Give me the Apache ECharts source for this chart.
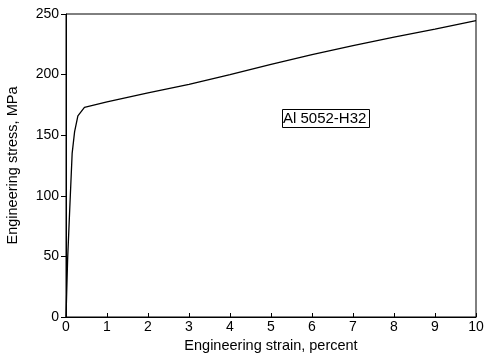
<!DOCTYPE html>
<html>
<head>
<meta charset="utf-8">
<script src="https://cdn.jsdelivr.net/npm/echarts@6/dist/echarts.min.js"></script>
<style>
html,body{margin:0;padding:0;background:#fff;}
#chart{width:484px;height:357px;}
</style>
</head>
<body>
<div id="chart"></div>
<script>
var strain = [0, 0.04, 0.09, 0.15, 0.21, 0.29, 0.45, 1, 2, 3, 4, 5, 6, 7, 8, 9, 10];
var stress = [0, 48, 88, 135, 153, 166, 173, 177.5, 185, 192, 200, 208.5, 216.5, 224, 231, 237.5, 244.5];
var xTicks = [0, 1, 2, 3, 4, 5, 6, 7, 8, 9, 10];
var yTicks = [0, 50, 100, 150, 200, 250];
var labelText = 'Al 5052-H32';

var font = 'Liberation Sans, Arial, sans-serif';
var chart = echarts.init(document.getElementById('chart'), null, {renderer: 'canvas'});
chart.setOption({
  animation: false,
  backgroundColor: '#fff',
  grid: {left: 66, right: 8, top: 14, bottom: 40, show: true, borderColor: '#000', borderWidth: 1,
         containLabel: false, outerBoundsMode: 'none'},
  title: {
    text: labelText, left: 282, top: 109,
    padding: [2, 3, 2, 1],
    borderColor: '#000', borderWidth: 1,
    textStyle: {fontFamily: font, fontSize: 15, fontWeight: 'normal', color: '#000'}
  },
  xAxis: {
    type: 'value', min: xTicks[0], max: xTicks[xTicks.length - 1], interval: 1,
    name: 'Engineering strain, percent', nameLocation: 'middle', nameGap: 20,
    nameTextStyle: {fontFamily: font, fontSize: 14.5, color: '#000'},
    axisLine: {show: true, lineStyle: {color: '#000', width: 1}},
    axisTick: {show: true, inside: true, length: 4, lineStyle: {color: '#000'}},
    axisLabel: {fontFamily: font, fontSize: 14, color: '#000', margin: 3},
    splitLine: {show: false}
  },
  yAxis: {
    type: 'value', min: yTicks[0], max: yTicks[yTicks.length - 1], interval: 50,
    name: 'Engineering stress, MPa', nameLocation: 'middle', nameGap: 46,
    nameTextStyle: {fontFamily: font, fontSize: 14.5, color: '#000'},
    axisLine: {show: true, lineStyle: {color: '#000', width: 1}},
    axisTick: {show: true, inside: false, length: 5, lineStyle: {color: '#000'}},
    axisLabel: {fontFamily: font, fontSize: 14, color: '#000', margin: 7},
    splitLine: {show: false}
  },
  series: [{
    type: 'line',
    data: strain.map(function (s, i) { return [s, stress[i]]; }),
    showSymbol: false,
    lineStyle: {color: '#000', width: 1.3},
    silent: true
  }]
});
</script>
</body>
</html>
